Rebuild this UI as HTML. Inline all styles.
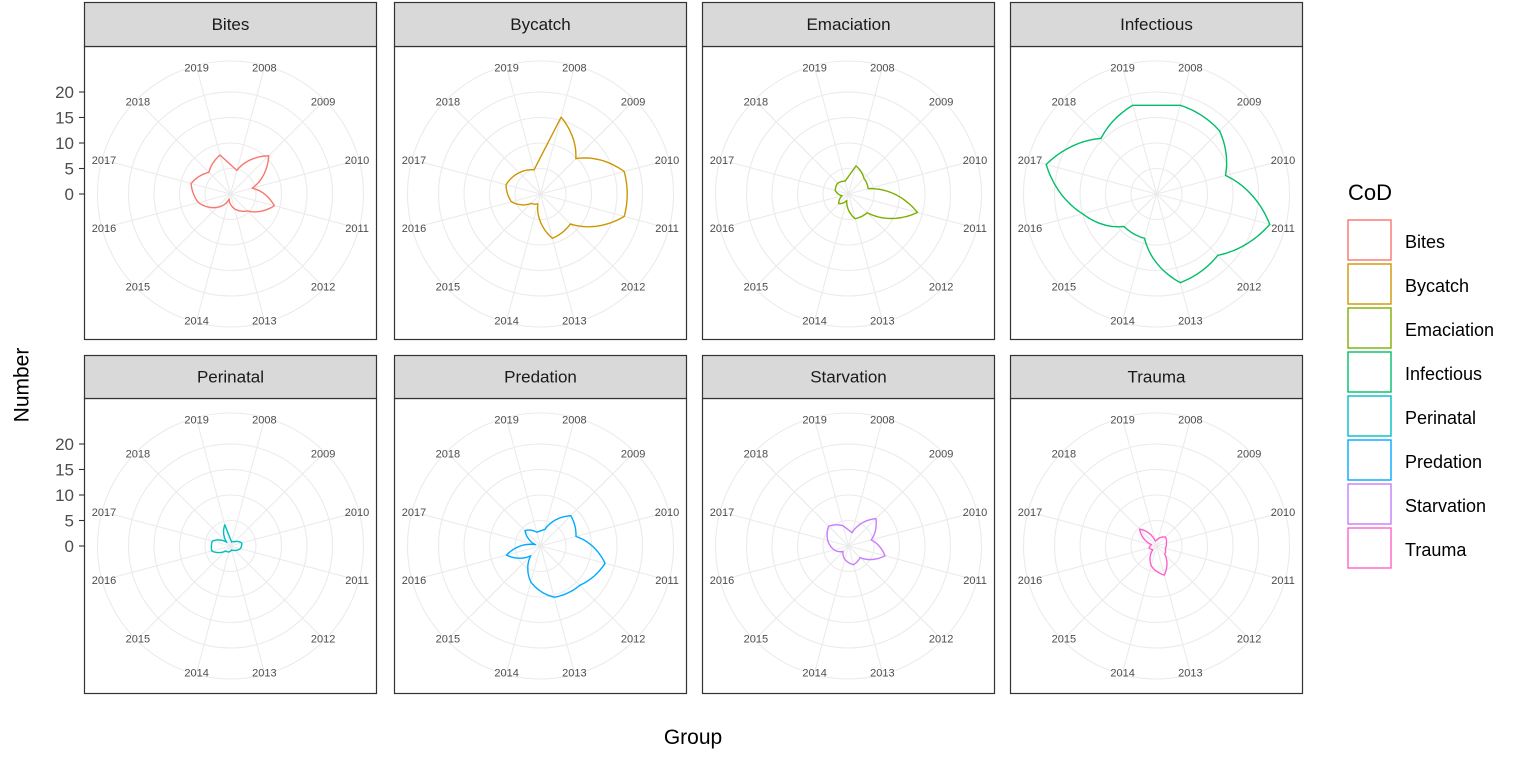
<!DOCTYPE html>
<html><head><meta charset="utf-8">
<style>
html,body{margin:0;padding:0;background:#fff;}
svg{display:block;font-family:"Liberation Sans",Arial,sans-serif;}
</style></head>
<body>
<svg id="s" width="1535" height="759" viewBox="0 0 1535 759" xmlns="http://www.w3.org/2000/svg">
<rect width="1535" height="759" fill="#fff"/>
<text x="22" y="385" font-size="21" fill="#000" text-anchor="middle" transform="rotate(-90 22 385)" dominant-baseline="central">Number</text>
<text x="693" y="744" font-size="21" fill="#000" text-anchor="middle">Group</text>
<text x="1348" y="200" font-size="22" fill="#000">CoD</text>
</svg>
<script>
const S=document.getElementById('s');const NS='http://www.w3.org/2000/svg';
function el(t,a,txt){const e=document.createElementNS(NS,t);for(const k in a)e.setAttribute(k,a[k]);if(txt!==undefined)e.textContent=txt;S.appendChild(e);return e;}
const names=['Bites','Bycatch','Emaciation','Infectious','Perinatal','Predation','Starvation','Trauma'];
const cols=['#F8766D','#CD9600','#7CAE00','#00BE67','#00BFC4','#00A9FF','#C77CFF','#FF61CC'];
// values 2008..2019
const data=[
[4.8,10.6,4.4,8.9,4.7,3,1,3.7,6.5,8,6,7.9],
[15.6,9.8,17,17,8.3,9,2,2.6,5.9,7,5.9,4.9],
[5.7,4.3,4,14,5.2,5,1.3,2.7,1.3,2.7,3,2.6],
[18,17.5,14,23,17,18,9,9,15,22.4,15.4,18],
[0.8,1.2,2.3,2,1.2,0.8,1.2,1.4,3.8,3.7,1,4.3],
[3.4,8.4,7.2,13.1,10.9,10.4,7.3,2.7,6.9,1,4.3,2.8],
[2.7,7.6,4.6,7.4,3.2,3.8,2.7,1.5,2.9,4.2,5.5,4.1],
[1.5,2.5,2,1.8,2.3,5.9,4,1,1.5,1,4.7,1]
];
const colX=[84,394,702,1010],W=293;
const rows=[{st:2,top:46,bot:340,cy:194},{st:355,top:398,bot:694,cy:546}];
const K=5.1,RO=133;
for(let p=0;p<8;p++){
 const r=rows[Math.floor(p/4)],x0=colX[p%4],cx=x0+W/2,cy=r.cy;
 el('rect',{x:x0,y:r.top,width:W,height:r.bot-r.top,fill:'#fff'});
 // grid circles
 [5,10,15,20].forEach(v=>el('circle',{cx,cy,r:v*K,fill:'none',stroke:'#ebebeb','stroke-width':1.1}));
 el('circle',{cx,cy,r:RO,fill:'none',stroke:'#ebebeb','stroke-width':1.1});
 for(let i=0;i<12;i++){const a=(15+30*i)*Math.PI/180;
  el('line',{x1:cx,y1:cy,x2:cx+RO*Math.sin(a),y2:cy-RO*Math.cos(a),stroke:'#ebebeb','stroke-width':1.1});
  const lr=131;el('text',{x:cx+lr*Math.sin(a),y:cy-lr*Math.cos(a)+4,'font-size':11,fill:'#4d4d4d','text-anchor':'middle'},String(2008+i));}
 // series
 const d=data[p];let pts=[];
 for(let i=0;i<11;i++){for(let s=0;s<20;s++){const t=s/20;const ang=(15+30*(i+t))*Math.PI/180;const rv=(d[i]+(d[i+1]-d[i])*t)*K;pts.push([cx+rv*Math.sin(ang),cy-rv*Math.cos(ang)]);}}
 {const ang=(15+330)*Math.PI/180,rv=d[11]*K;pts.push([cx+rv*Math.sin(ang),cy-rv*Math.cos(ang)]);}
 el('polygon',{points:pts.map(q=>q[0].toFixed(1)+','+q[1].toFixed(1)).join(' '),fill:'none',stroke:cols[p],'stroke-width':1.4,'stroke-linejoin':'round'});
 el('rect',{x:x0+0.5,y:r.top+0.5,width:W-1,height:r.bot-r.top-1,fill:'none',stroke:'#333','stroke-width':1.2});
 el('rect',{x:x0+0.5,y:r.st+0.5,width:W-1,height:r.top-r.st,fill:'#d9d9d9',stroke:'#333','stroke-width':1.2});
 el('text',{x:cx,y:(r.st+r.top)/2+6,'font-size':17,fill:'#1a1a1a','text-anchor':'middle'},names[p]);
}
// y axes
rows.forEach(r=>{[0,5,10,15,20].forEach(v=>{const y=r.cy-v*K;
 el('line',{x1:79,y1:y,x2:84,y2:y,stroke:'#333','stroke-width':1.1});
 el('text',{x:74,y:y+6,'font-size':17,fill:'#4d4d4d','text-anchor':'end'},String(v));});});
// legend
for(let i=0;i<8;i++){const y=220+44*i;
 el('rect',{x:1348,y:y,width:43,height:40,fill:'#fff',stroke:cols[i],'stroke-width':1.4});
 el('text',{x:1405,y:y+28,'font-size':18,fill:'#000'},names[i]);}
</script>
</body></html>
